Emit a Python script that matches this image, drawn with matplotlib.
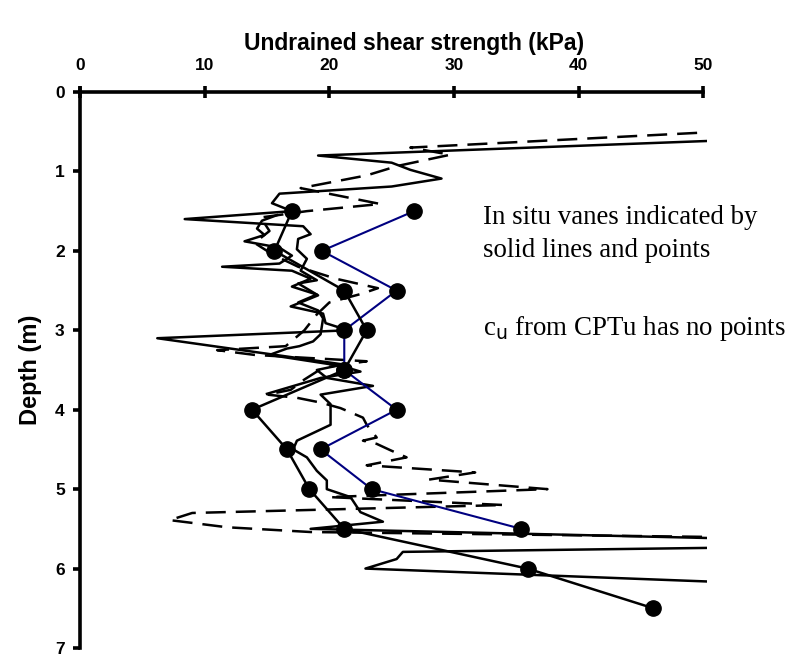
import matplotlib
matplotlib.use("Agg")
import matplotlib.pyplot as plt
from matplotlib import font_manager as fm

# in situ vane profiles (depth m, cu kPa)
vane_blue_depth = [1.5, 2.0, 2.5, 3.0, 3.5, 4.0, 4.5, 5.0, 5.5]
vane_blue_cu = [26.8, 19.4, 25.4, 21.2, 21.2, 25.4, 19.3, 23.4, 35.4]

vane_black_depth = [1.5, 2.0, 2.5, 3.0, 3.5, 4.0, 4.5, 5.0, 5.5, 6.0, 6.5]
vane_black_cu = [17.0, 15.6, 21.2, 23.0, 21.2, 13.8, 16.6, 18.4, 21.2, 35.9, 46.0]

# cu from CPTu (no points); 60 kPa = off the chart on the right
cptu1_depth = [0.56, 0.80, 0.89, 0.98, 1.09, 1.19, 1.28, 1.40, 1.50, 1.60, 1.69, 1.79,
               1.85, 1.98, 2.10, 2.25, 2.37, 2.41, 2.56, 2.70, 2.79, 2.91, 3.00, 3.10,
               3.43, 3.50, 3.60, 3.70, 3.81, 3.93, 4.19, 4.39, 4.50, 4.60, 4.77, 4.89,
               5.00, 5.10, 5.29, 5.41, 5.50, 5.65, 5.72, 5.79, 5.88, 6.00, 6.22]
cptu1_cu = [60, 19.1, 25.0, 26.5, 29.0, 25.0, 16.0, 15.4, 17.0, 8.4, 17.9, 18.5,
            17.5, 17.4, 18.2, 17.7, 19.0, 17.5, 19.1, 16.9, 19.5, 19.7, 21.5, 6.2,
            21.1, 19.0, 19.8, 23.5, 19.3, 20.1, 20.1, 17.4, 17.1, 18.2, 19.0, 19.8,
            19.8, 21.7, 22.5, 24.3, 18.5, 60, 60, 25.9, 25.4, 22.9, 60]

cptu2_depth = [1.55, 1.62, 1.72, 1.80, 1.88, 1.96, 2.06, 2.16, 2.20, 2.25, 2.35, 2.45,
               2.55, 2.65, 2.75, 2.85, 2.95, 3.05, 3.14, 3.20, 3.23, 3.31, 3.45, 3.52,
               3.60, 3.80]
cptu2_cu = [15.8, 14.6, 14.2, 14.8, 13.2, 16.0, 17.0, 16.0, 11.4, 17.0, 18.5, 17.0,
            19.0, 17.5, 19.1, 19.5, 19.4, 19.3, 18.7, 17.6, 16.6, 15.2, 21.0, 22.5,
            19.3, 15.0]

cptu3_depth = [0.43, 0.70, 0.79, 0.93, 1.05, 1.21, 1.41, 1.50, 1.58, 1.75, 1.90, 2.05,
               2.20, 2.35, 2.47, 2.54, 2.65, 2.80, 3.00, 3.20, 3.25, 3.31, 3.39, 3.47,
               3.62, 3.75, 3.81, 3.85, 3.91, 3.98, 4.10, 4.19, 4.35, 4.39, 4.43, 4.51,
               4.60, 4.70, 4.79, 4.88, 5.00, 5.10, 5.20, 5.30, 5.39, 5.48, 5.54, 5.62]
cptu3_cu = [60, 26.5, 29.7, 25.5, 23.0, 17.7, 24.1, 18.2, 14.5, 15.2, 14.0, 15.5,
            17.5, 20.5, 23.9, 22.6, 20.0, 19.0, 18.0, 16.5, 11.0, 14.0, 23.0, 19.5,
            18.0, 16.9, 15.0, 17.4, 19.3, 20.9, 22.7, 23.0, 23.8, 22.7, 23.8, 24.9,
            26.2, 23.0, 31.7, 28.0, 37.5, 20.0, 34.0, 9.0, 7.2, 11.8, 18.5, 60]

x_ticks = [0, 10, 20, 30, 40, 50]
y_ticks = [0, 1, 2, 3, 4, 5, 6, 7]


def find_font(fname, fallback):
    # pick the exact font file, name matching tends to grab the Narrow variant
    for f in fm.findSystemFonts():
        if f.endswith(fname):
            return fm.FontProperties(fname=f)
    return fm.FontProperties(family=fallback, weight="bold")


bold = find_font("LiberationSans-Bold.ttf", "DejaVu Sans")
serif = find_font("LiberationSerif-Regular.ttf", "DejaVu Serif")

fig = plt.figure(figsize=(7.86, 6.59), dpi=100)
ax = fig.add_axes([0.1018, 0.0167, 0.7977, 0.8437])

ax.plot(cptu1_cu, cptu1_depth, color="black", lw=1.8)
ax.plot(cptu2_cu, cptu2_depth, color="black", lw=1.8)
ax.plot(cptu3_cu, cptu3_depth, color="black", lw=1.8, dashes=(8, 4))

ax.plot(vane_blue_cu, vane_blue_depth, color="#000080", lw=1.5,
        marker="o", ms=11, mfc="black", mec="black")
ax.plot(vane_black_cu, vane_black_depth, color="black", lw=1.8,
        marker="o", ms=11, mfc="black", mec="black")

ax.set_xlim(0, 50.3)
ax.set_ylim(7, 0)
ax.xaxis.tick_top()
ax.xaxis.set_label_position("top")
ax.set_xticks(x_ticks)
ax.set_yticks(y_ticks)
for s in ["right", "bottom"]:
    ax.spines[s].set_visible(False)
for s in ["top", "left"]:
    ax.spines[s].set_linewidth(2.6)
ax.spines["top"].set_bounds(0, 50)
ax.spines["left"].set_bounds(-0.05, 7)
ax.tick_params(axis="x", direction="inout", length=9, width=2.6, pad=9)
ax.tick_params(axis="y", direction="out", length=5, width=2.6, pad=6)

for lab in ax.get_xticklabels() + ax.get_yticklabels():
    lab.set_fontproperties(bold)
    lab.set_fontsize(12.5)

ax.set_xlabel("Undrained shear strength (kPa)", fontproperties=bold,
              fontsize=16.5, labelpad=6)
ax.xaxis.label.set_x(0.533)
ax.set_ylabel("Depth (m)", fontproperties=bold, fontsize=17, labelpad=9)

for y, s in [(1.58, "In situ vanes indicated by"),
             (2.0, "solid lines and points"),
             (2.98, "c$_\\mathrm{u}$ from CPTu has no points")]:
    t = ax.text(32.3, y, s, va="center", ha="left")
    t.set_fontproperties(serif)
    t.set_fontsize(19.4)

fig.savefig("out.png", dpi=100)
